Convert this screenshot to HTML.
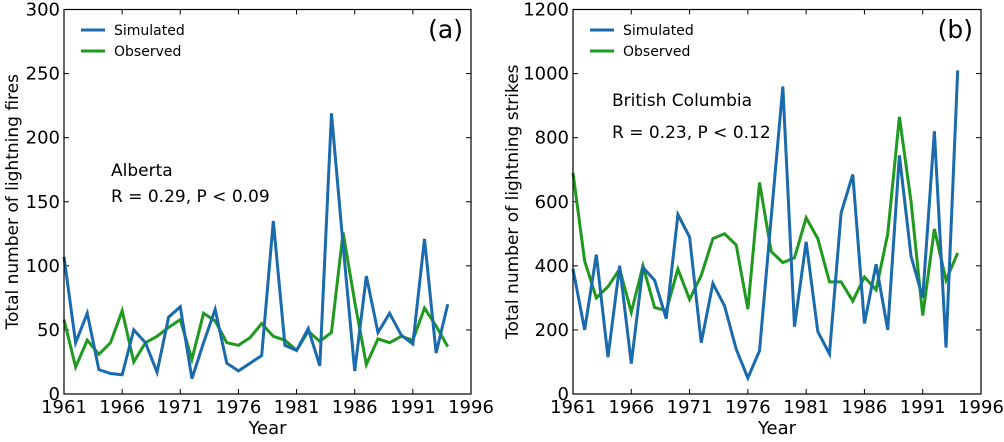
<!DOCTYPE html>
<html><head><meta charset="utf-8"><style>
body{margin:0;background:#fff;width:1004px;height:437px;overflow:hidden}
svg{font-family:"DejaVu Sans","Liberation Sans",sans-serif}
</style></head><body>
<svg id="c" width="1004" height="437"></svg>
<script>
const years=[1961,1962,1963,1964,1965,1966,1967,1968,1969,1970,1971,1972,1973,1974,1975,1976,1977,1978,1979,1980,1981,1982,1983,1984,1985,1986,1987,1988,1989,1990,1991,1992,1993,1994];
const albertaSim=[107,40,63,19,16,15,50,40,17,60,68,12,40,66,24,18,24,30,135,38,34,51,22,219,116,18,92,48,63,46,39,121,32,70];
const albertaObs=[58,21,42,31,40,65,25,40,45,52,58,27,63,57,40,38,44,55,45,42,34,49,41,48,126,72,23,43,40,45,42,67,53,37];
const bcSim=[390,200,435,115,400,95,395,355,235,560,490,160,345,275,140,50,135,550,960,210,475,195,125,565,685,220,405,200,745,430,300,820,145,1010];
const bcObs=[690,415,300,335,390,255,400,270,260,390,295,370,485,500,465,265,660,445,410,425,550,485,350,350,290,365,325,500,865,600,245,515,355,440];
const xTicks=[1961,1966,1971,1976,1981,1986,1991,1996];
const aTicks=[0,50,100,150,200,250,300];
const bTicks=[0,200,400,600,800,1000,1200];
const NS="http://www.w3.org/2000/svg";
const svg=document.getElementById('c');
function mk(t,a,p){const e=document.createElementNS(NS,t);for(const k in a)e.setAttribute(k,a[k]);(p||svg).appendChild(e);return e;}
function panel(o){
  const g=mk('g',{});
  
  
  const X=v=>o.L+(v-1961)/(1996-1961)*(o.R-o.L);
  const Y=v=>o.B-v/o.ymax*(o.B-o.T);
  xTicks.forEach(t=>{
    const x=X(t);
    mk('line',{x1:x,x2:x,y1:o.B,y2:o.B-5,stroke:'#000'},g);
    mk('line',{x1:x,x2:x,y1:o.T,y2:o.T+5,stroke:'#000'},g);
    const tx=mk('text',{x:x,y:o.B+19,'text-anchor':'middle','font-size':18},g);tx.textContent=t;
    
    
  });
  o.ticks.forEach(t=>{
    const y=Y(t);
    mk('line',{x1:o.L,x2:o.L+5,y1:y,y2:y,stroke:'#000'},g);
    mk('line',{x1:o.R,x2:o.R-5,y1:y,y2:y,stroke:'#000'},g);
    const tx=mk('text',{x:o.L-4,y:y+6,'text-anchor':'end','font-size':18},g);tx.textContent=t;
    
    
  });
  const line=(arr,col,nm)=>{
    const p=mk('polyline',{points:arr.map((v,i)=>X(years[i])+','+Y(v)).join(' '),fill:'none',stroke:col,'stroke-width':3,'stroke-linejoin':'miter'},g);
    
    
  };
  line(o.obs,'#1f9a1f','observed-line');
  line(o.sim,'#1a6aae','simulated-line');
  mk('rect',{x:o.L,y:o.T,width:o.R-o.L,height:o.B-o.T,fill:'none',stroke:'#000','stroke-width':1.2},g);
  const lg=mk('g',{},g);
  
  
  mk('line',{x1:o.L+17,x2:o.L+41,y1:30,y2:30,stroke:'#1a6aae','stroke-width':3},lg);
  mk('line',{x1:o.L+17,x2:o.L+41,y1:51,y2:51,stroke:'#1f9a1f','stroke-width':3},lg);
  let t=mk('text',{x:o.L+50,y:35,'font-size':14},lg);t.textContent='Simulated';
  t=mk('text',{x:o.L+50,y:56,'font-size':14},lg);t.textContent='Observed';
  t=mk('text',{x:o.R-8,y:38,'text-anchor':'end','font-size':25},g);t.textContent=o.tag;
  
  
  t=mk('text',{x:o.tx,y:o.ty1,'font-size':17},g);t.textContent=o.region;
  
  
  t=mk('text',{x:o.tx,y:o.ty2,'font-size':17},g);t.textContent=o.stat;
  
  
  t=mk('text',{x:(o.L+o.R)/2,y:434,'text-anchor':'middle','font-size':18},g);t.textContent='Year';
  
  
  t=mk('text',{x:0,y:0,'text-anchor':'middle','font-size':17,transform:`translate(${o.yl},${(o.T+o.B)/2}) rotate(-90)`},g);t.textContent=o.ylab;
  
  
}
panel({name:'panel-a-alberta',L:64,R:471,T:9.5,B:394,ymax:300,ticks:aTicks,sim:albertaSim,obs:albertaObs,tag:'(a)',region:'Alberta',stat:'R = 0.29,  P < 0.09',tx:111,ty1:176,ty2:202,ylab:'Total number of lightning fires',yl:18});
panel({name:'panel-b-bc',L:573,R:981,T:9.5,B:394,ymax:1200,ticks:bTicks,sim:bcSim,obs:bcObs,tag:'(b)',region:'British Columbia',stat:'R = 0.23,  P < 0.12',tx:612,ty1:106,ty2:138,ylab:'Total number of lightning strikes',yl:518});
</script>
</body></html>
